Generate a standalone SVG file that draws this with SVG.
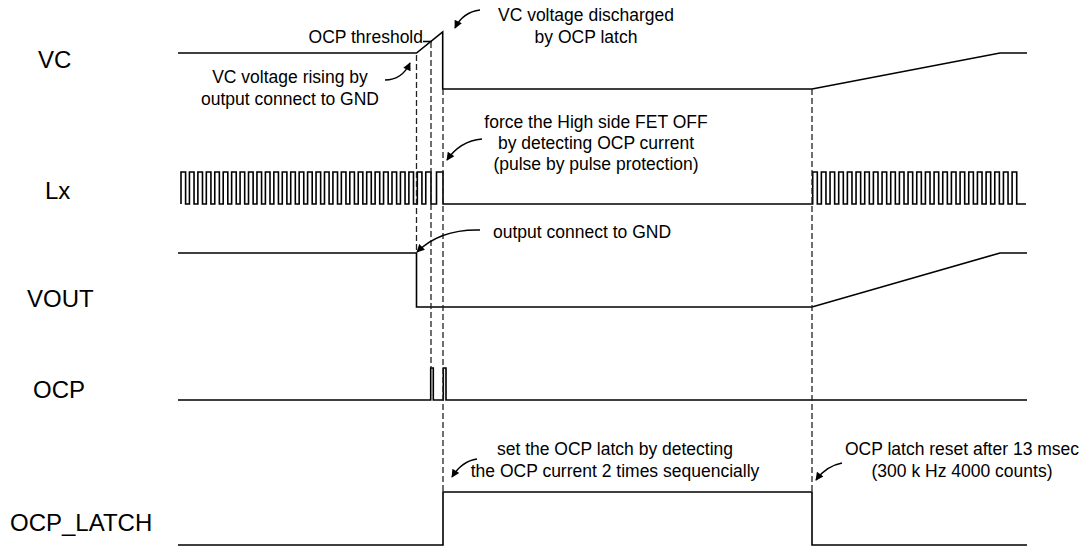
<svg xmlns="http://www.w3.org/2000/svg" width="1085" height="550" viewBox="0 0 1085 550">
<style>
.sig{fill:none;stroke:#000;stroke-width:1.6;stroke-linejoin:miter}
.dash{fill:none;stroke:#222;stroke-width:1.3;stroke-dasharray:6,3}
.arr{fill:none;stroke:#000;stroke-width:1.4}
.lbl{font-family:"Liberation Sans",Arial,sans-serif;font-size:24px;fill:#000}
.ann{font-family:"Liberation Sans",Arial,sans-serif;font-size:17.5px;fill:#000}
.mid{text-anchor:middle}
</style>
<defs>
<marker id="ah" viewBox="0 0 10 10" refX="9" refY="5" markerWidth="10" markerHeight="8" markerUnits="userSpaceOnUse" orient="auto">
<path d="M0,0L10,5L0,10z" fill="#000"/>
</marker>
</defs>
<rect width="1085" height="550" fill="#fff"/>
<g id="vc">
<text class="lbl" x="38" y="68">VC</text>
<path class="sig" d="M178,53H416.5L442.7,32V89H812L1000,53H1027"/>
<path class="sig" d="M423,41.5H432" stroke-width="1.2"/>
</g>
<g id="lx">
<text class="lbl" x="45" y="199">Lx</text>
<path class="sig" stroke-width="1.4" d="M181,204v-32h4.6v32h3.84v-32h4.6v32h3.84v-32h4.6v32h3.84v-32h4.6v32h3.84v-32h4.6v32h3.84v-32h4.6v32h3.84v-32h4.6v32h3.84v-32h4.6v32h3.84v-32h4.6v32h3.84v-32h4.6v32h3.84v-32h4.6v32h3.84v-32h4.6v32h3.84v-32h4.6v32h3.84v-32h4.6v32h3.84v-32h4.6v32h3.84v-32h4.6v32h3.84v-32h4.6v32h3.84v-32h4.6v32h3.84v-32h4.6v32h3.84v-32h4.6v32h3.84v-32h4.6v32h3.84v-32h4.6v32h3.84v-32h4.6v32h3.84v-32h4.6v32h3.84v-32h4.6v32h3.84v-32h4.6v32h3.84v-32h4.6v32h3.84v-32h4.6v32h3.84v-32h4.6v32h3.84v-32H431v32H436.5v-32H443v32H812.7v-32h4.6v32h4.07v-32h4.6v32h4.07v-32h4.6v32h4.07v-32h4.6v32h4.07v-32h4.6v32h4.07v-32h4.6v32h4.07v-32h4.6v32h4.07v-32h4.6v32h4.07v-32h4.6v32h4.07v-32h4.6v32h4.07v-32h4.6v32h4.07v-32h4.6v32h4.07v-32h4.6v32h4.07v-32h4.6v32h4.07v-32h4.6v32h4.07v-32h4.6v32h4.07v-32h4.6v32h4.07v-32h4.6v32h4.07v-32h4.6v32h4.07v-32h4.6v32h4.07v-32h4.6v32h4.07v-32h4.6v32h4.07v-32h4.6v32h4.07v-32h4.6v32h4.07H1026"/>
</g>
<g id="vout">
<text class="lbl" x="27" y="307">VOUT</text>
<path class="sig" d="M178,253H416.5V307H812L1000,253H1027"/>
</g>
<g id="ocp">
<text class="lbl" x="33" y="398">OCP</text>
<path class="sig" d="M178,400H430.7V368H433.3V400H443.3V368H446V400H1027"/>
</g>
<g id="ocp_latch">
<text class="lbl" x="10" y="531">OCP_LATCH</text>
<path class="sig" d="M178,545H443V492H812V545H1027"/>
</g>
<g id="notes">
<text class="ann" x="423" y="43" text-anchor="end">OCP threshold</text>
<text class="ann mid" x="290" y="83">VC voltage rising by</text>
<text class="ann mid" x="290" y="105">output connect to GND</text>
<text class="ann mid" x="586" y="21">VC voltage discharged</text>
<text class="ann mid" x="586" y="43">by OCP latch</text>
<text class="ann mid" x="596" y="128">force the High side FET OFF</text>
<text class="ann mid" x="596" y="149">by detecting OCP current</text>
<text class="ann mid" x="596" y="170">(pulse by pulse protection)</text>
<text class="ann" x="493" y="238">output connect to GND</text>
<text class="ann mid" x="615" y="455">set the OCP latch by detecting</text>
<text class="ann mid" x="615" y="477">the OCP current 2 times sequencially</text>
<text class="ann mid" x="962" y="455">OCP latch reset after 13 msec</text>
<text class="ann mid" x="962" y="477">(300 k Hz 4000 counts)</text>
</g>
<g id="connectors">
<path class="dash" d="M416.5,55V253"/>
<path class="dash" d="M431,42V368"/>
<path class="dash" d="M443,89V492"/>
<path class="dash" d="M812,89V492"/>
<path class="arr" marker-end="url(#ah)" d="M385,80Q402,80 410,63"/>
<path class="arr" marker-end="url(#ah)" d="M480,10Q463,12 455,28"/>
<path class="arr" marker-end="url(#ah)" d="M482,139Q460,141 447,160"/>
<path class="arr" marker-end="url(#ah)" d="M480,230Q440,229 417,252"/>
<path class="arr" marker-end="url(#ah)" d="M477,459Q462,461 452,477"/>
<path class="arr" marker-end="url(#ah)" d="M842,463Q826,466 816,480"/>
</g>
</svg>
